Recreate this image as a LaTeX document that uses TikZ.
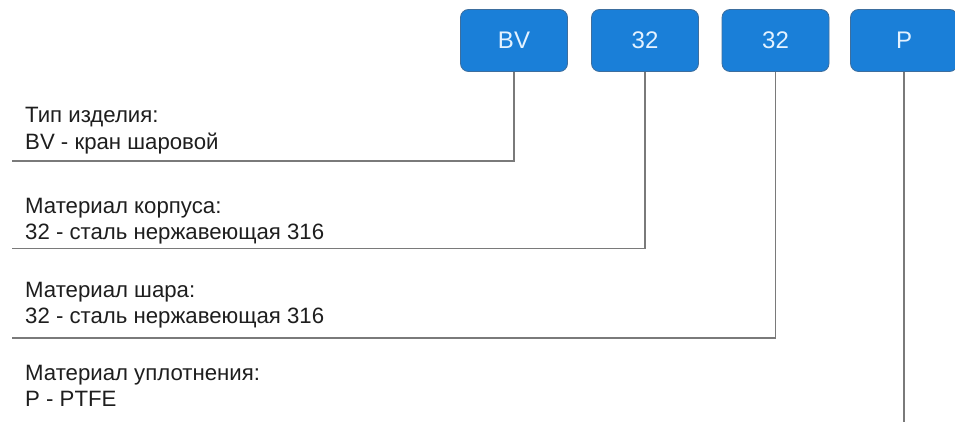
\documentclass[tikz,border=0pt]{standalone}
\usepackage{fontspec}
\setmainfont{Liberation Sans}
\definecolor{boxblue}{HTML}{1A7FD8}
\definecolor{boxedge}{HTML}{3D6E9E}
\definecolor{boxtext}{HTML}{E4F2FF}
\definecolor{linegray}{HTML}{7A7A7A}
\definecolor{txt}{HTML}{1E1E1E}
\begin{document}
\begin{tikzpicture}[x=1pt,y=-1pt,
  codebox/.style={draw=boxedge,line width=0.8pt,fill=boxblue,rounded corners=8pt,
    minimum width=107pt,minimum height=62pt,inner sep=0pt,
    text=boxtext,font=\fontsize{24}{28}\selectfont},
  desc/.style={anchor=base west,inner sep=0pt,text=txt,font=\fontsize{22.2}{26}\selectfont},
  lead/.style={draw=linegray,line width=1.4pt}]
\useasboundingbox (0,0) rectangle (955,422);
\fill[white] (0,0) rectangle (955,422);
% code boxes
\node[codebox] (bv) at (514,40.5) {BV};
\node[codebox] (b2) at (645,40.5) {32};
\node[codebox] (b3) at (775.5,40.5) {32};
\node[codebox] (bp) at (904,40.5) {P};
% line ends
\coordinate (e1) at (12,161);
\coordinate (e2) at (12,248.5);
\coordinate (e3) at (12,338);
\coordinate (e4) at (904,422);
% descriptions
\node[desc] (t1a) at (25,123) {Тип изделия:};
\node[desc] (t1b) at (25,150) {BV - кран шаровой};
\node[desc] (t2a) at (25,213) {Материал корпуса:};
\node[desc] (t2b) at (25,239) {32 - сталь нержавеющая 316};
\node[desc] (t3a) at (25,297) {Материал шара:};
\node[desc] (t3b) at (25,323) {32 - сталь нержавеющая 316};
\node[desc] (t4a) at (25,380) {Материал уплотнения:};
\node[desc] (t4b) at (25,406) {P - PTFE};
% leaders
\draw[lead] (bv.south) |- (e1);
\draw[lead] (b2.south) |- (e2);
\draw[lead] (b3.south) |- (e3);
\draw[lead] (bp.south) -- (e4);
\end{tikzpicture}
\end{document}
